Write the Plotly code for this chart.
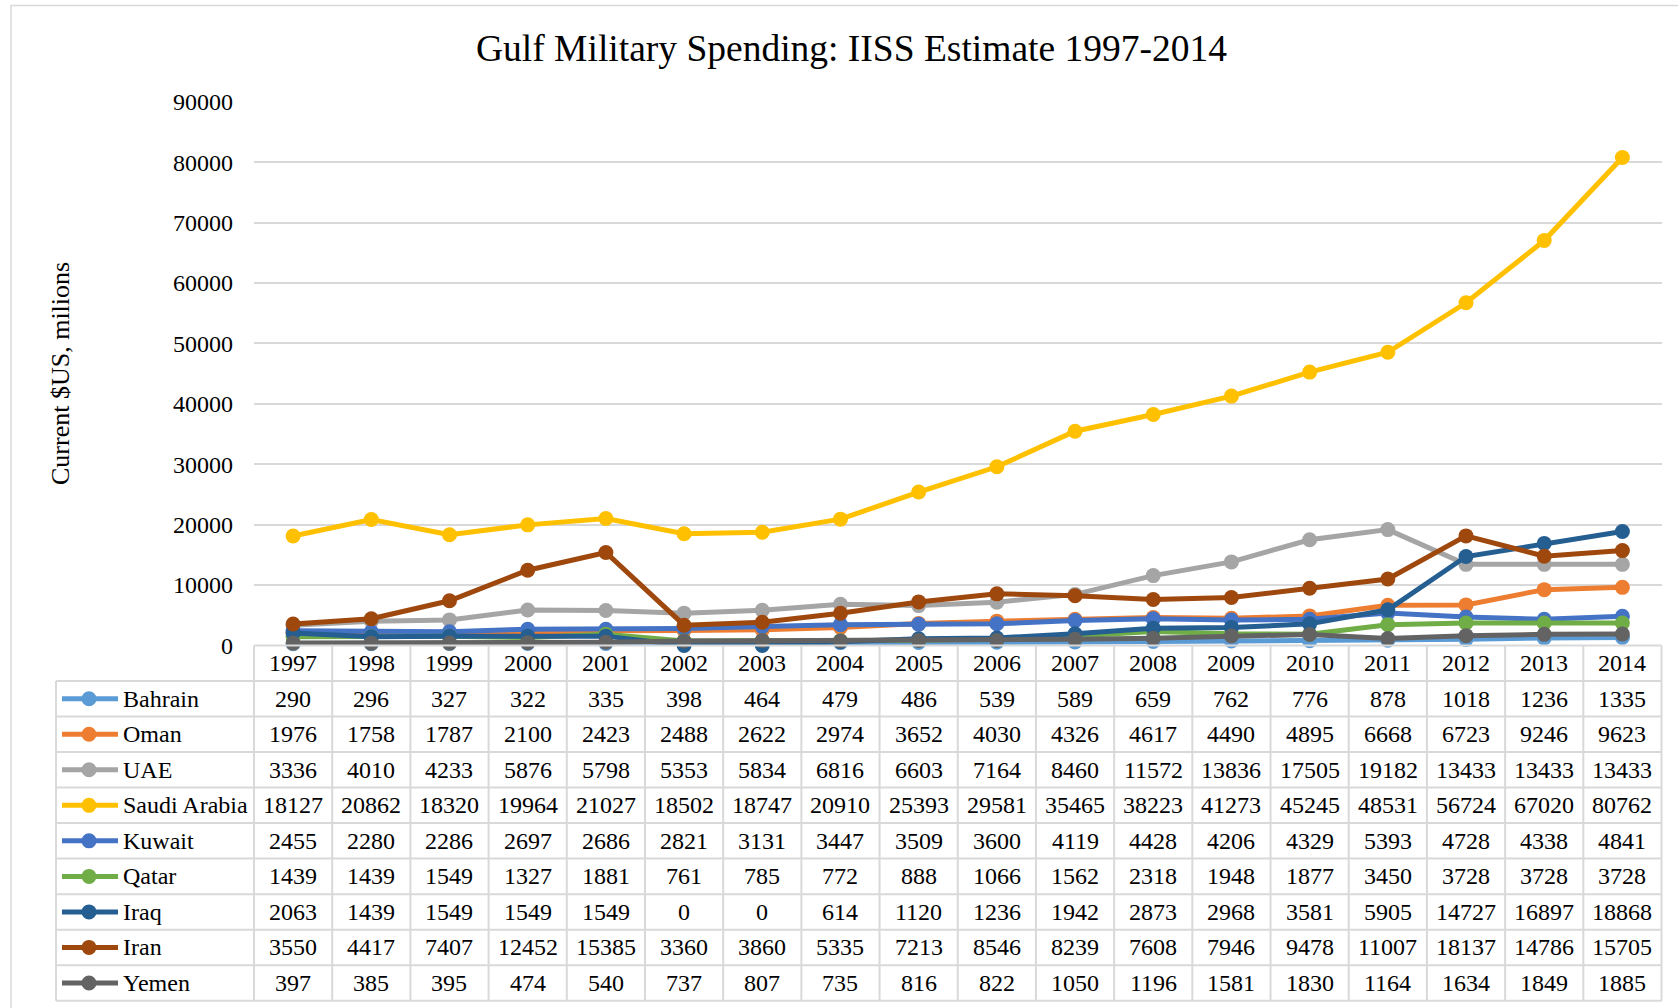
import plotly.graph_objects as go

W, H = 1678, 1008

# ---- data (current US$, millions) ----
years = list(range(1997, 2015))
countries = ["Bahrain", "Oman", "UAE", "Saudi Arabia", "Kuwait", "Qatar", "Iraq", "Iran", "Yemen"]
bahrain = [290, 296, 327, 322, 335, 398, 464, 479, 486, 539, 589, 659, 762, 776, 878, 1018, 1236, 1335]
oman = [1976, 1758, 1787, 2100, 2423, 2488, 2622, 2974, 3652, 4030, 4326, 4617, 4490, 4895, 6668, 6723, 9246, 9623]
uae = [3336, 4010, 4233, 5876, 5798, 5353, 5834, 6816, 6603, 7164, 8460, 11572, 13836, 17505, 19182, 13433, 13433, 13433]
saudi = [18127, 20862, 18320, 19964, 21027, 18502, 18747, 20910, 25393, 29581, 35465, 38223, 41273, 45245, 48531, 56724, 67020, 80762]
kuwait = [2455, 2280, 2286, 2697, 2686, 2821, 3131, 3447, 3509, 3600, 4119, 4428, 4206, 4329, 5393, 4728, 4338, 4841]
qatar = [1439, 1439, 1549, 1327, 1881, 761, 785, 772, 888, 1066, 1562, 2318, 1948, 1877, 3450, 3728, 3728, 3728]
iraq = [2063, 1439, 1549, 1549, 1549, 0, 0, 614, 1120, 1236, 1942, 2873, 2968, 3581, 5905, 14727, 16897, 18868]
iran = [3550, 4417, 7407, 12452, 15385, 3360, 3860, 5335, 7213, 8546, 8239, 7608, 7946, 9478, 11007, 18137, 14786, 15705]
yemen = [397, 385, 395, 474, 540, 737, 807, 735, 816, 822, 1050, 1196, 1581, 1830, 1164, 1634, 1849, 1885]
series = [bahrain, oman, uae, saudi, kuwait, qatar, iraq, iran, yemen]
y_ticks = list(range(0, 90001, 10000))

colors = ["#5B9BD5", "#ED7D31", "#A5A5A5", "#FFC000", "#4472C4",
          "#70AD47", "#255E91", "#9E480E", "#636363"]

FONT = "Liberation Serif, Times New Roman, serif"
GRID = "#d9d9d9"


def px(x):
    return x / W


def py(y):
    return 1 - y / H


# layout geometry (pixels)
plot_l, plot_r = 254, 1661.5
plot_t, plot_b = 101.7, 645.5
table_l = 56
row_h = (1000.7 - 645.5) / 10
n_cols = len(years)

fig = go.Figure()

for name, vals, col in zip(countries, series, colors):
    fig.add_trace(go.Scatter(
        x=years, y=vals, name=name, mode="lines+markers",
        line=dict(color=col, width=5),
        marker=dict(color=col, size=15),
        cliponaxis=False, showlegend=False,
    ))

shapes = []
annotations = []

# outer chart border
shapes.append(dict(type="rect", xref="paper", yref="paper",
                   x0=px(11), x1=1.02, y0=-0.02, y1=py(5.5),
                   line=dict(color=GRID, width=1.5), layer="below"))

# data table: horizontal rules
table_top = plot_b
shapes.append(dict(type="line", xref="paper", yref="paper",
                   x0=px(plot_l), x1=px(plot_r), y0=py(table_top), y1=py(table_top),
                   line=dict(color=GRID, width=2)))
for i in range(1, 11):
    yy = table_top + i * row_h
    shapes.append(dict(type="line", xref="paper", yref="paper",
                       x0=px(table_l), x1=px(plot_r), y0=py(yy), y1=py(yy),
                       line=dict(color=GRID, width=2)))

# vertical rules: one per year boundary, plus the label column's left edge
for i in range(n_cols + 1):
    shapes.append(dict(type="line", xref="x domain", yref="paper",
                       x0=i / n_cols, x1=i / n_cols,
                       y0=py(table_top), y1=py(table_top + 10 * row_h),
                       line=dict(color=GRID, width=2)))
shapes.append(dict(type="line", xref="paper", yref="paper",
                   x0=px(table_l), x1=px(table_l),
                   y0=py(table_top + row_h), y1=py(table_top + 10 * row_h),
                   line=dict(color=GRID, width=2)))

# header row: years
hdr_y = table_top + 0.5 * row_h
for yr in years:
    annotations.append(dict(x=yr, y=py(hdr_y), xref="x", yref="paper",
                            text=str(yr), showarrow=False, xanchor="center",
                            yanchor="middle", font=dict(family=FONT, size=24, color="black")))

# body rows: legend key, country name, values
for r, (name, vals, col) in enumerate(zip(countries, series, colors)):
    cy = table_top + (r + 1.5) * row_h
    shapes.append(dict(type="line", xref="paper", yref="paper",
                       x0=px(62), x1=px(118), y0=py(cy), y1=py(cy),
                       line=dict(color=col, width=5)))
    shapes.append(dict(type="circle", xref="paper", yref="paper",
                       x0=px(89 - 7.5), x1=px(89 + 7.5), y0=py(cy + 7.5), y1=py(cy - 7.5),
                       fillcolor=col, line=dict(color=col, width=0)))
    annotations.append(dict(x=px(121), y=py(cy), xref="paper", yref="paper",
                            text=name, showarrow=False, xanchor="left",
                            yanchor="middle", font=dict(family=FONT, size=24, color="black")))
    for yr, v in zip(years, vals):
        annotations.append(dict(x=yr, y=py(cy), xref="x", yref="paper",
                                text=str(v), showarrow=False, xanchor="center",
                                yanchor="middle", font=dict(family=FONT, size=24, color="black")))

# titles
annotations.append(dict(x=px(851), y=py(48), xref="paper", yref="paper",
                        text="Gulf Military Spending: IISS Estimate 1997-2014",
                        showarrow=False, xanchor="center", yanchor="middle",
                        font=dict(family=FONT, size=37.5, color="black")))
annotations.append(dict(x=px(60), y=py(374), xref="paper", yref="paper",
                        text="Current $US, milions", textangle=-90,
                        showarrow=False, xanchor="center", yanchor="middle",
                        font=dict(family=FONT, size=26, color="black")))

fig.update_layout(
    width=W, height=H, autosize=False,
    margin=dict(l=0, r=0, t=0, b=0, pad=0, autoexpand=False),
    paper_bgcolor="white", plot_bgcolor="white",
    xaxis=dict(domain=[px(plot_l), px(plot_r)], range=[1996.5, 2014.5],
               showticklabels=False, showgrid=False, zeroline=False,
               showline=False, ticks=""),
    yaxis=dict(domain=[py(plot_b), py(plot_t)], range=[0, 90000],
               tickvals=y_ticks, ticktext=[str(t) for t in y_ticks],
               showgrid=True, gridcolor=GRID, gridwidth=2,
               zeroline=False, showline=False, ticks="",
               ticklabelstandoff=20,
               tickfont=dict(family=FONT, size=24, color="black")),
    shapes=shapes, annotations=annotations,
)

fig.write_html("out.html", config={"responsive": False, "displayModeBar": False})
